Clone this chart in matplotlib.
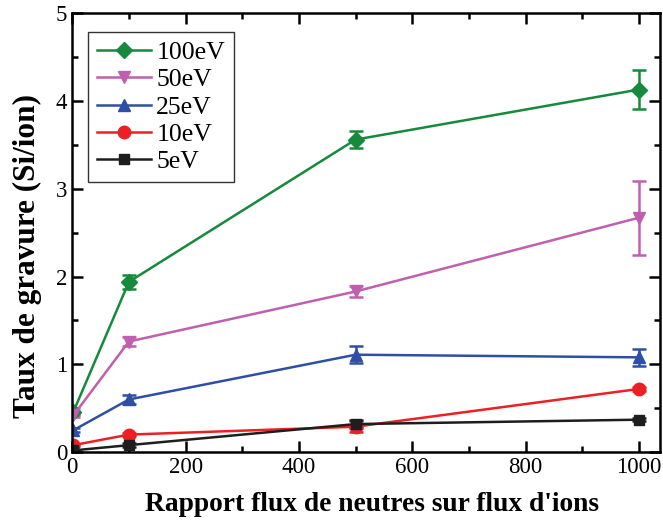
import numpy as np
import matplotlib
matplotlib.use("Agg")
from matplotlib import pyplot as plt
from matplotlib.ticker import MultipleLocator
from matplotlib.lines import Line2D

plt.rcParams["font.family"] = ["Liberation Serif", "DejaVu Serif"]

rapport = [2, 100, 500, 1000]

taux_100 = [0.46, 1.94, 3.56, 4.13]
err_100 = [0.04, 0.08, 0.10, 0.22]
taux_50 = [0.42, 1.26, 1.83, 2.67]
err_50 = [0.02, 0.05, 0.06, 0.42]
taux_25 = [0.25, 0.60, 1.11, 1.08]
err_25 = [0.02, 0.05, 0.10, 0.10]
taux_10 = [0.08, 0.20, 0.29, 0.72]
err_10 = [0.01, 0.02, 0.06, 0.02]
taux_5 = [0.02, 0.08, 0.32, 0.37]
err_5 = [0.01, 0.02, 0.05, 0.02]

series = [
    ("100eV", taux_100, err_100, "#168a3c", "D", 8),
    ("50eV", taux_50, err_50, "#c05fb0", "v", 9),
    ("25eV", taux_25, err_25, "#2f4fa6", "^", 9),
    ("10eV", taux_10, err_10, "#ee1f24", "o", 9),
    ("5eV", taux_5, err_5, "#1e1e1e", "s", 7),
]

fig = plt.figure(figsize=(6.63, 5.27), dpi=100)
ax = fig.add_axes([0.109, 0.142, 0.887, 0.833])

poignees = []
for nom, y, e, c, m, ms in series:
    ax.errorbar(rapport, y, yerr=e, color=c, marker=m, markersize=ms,
                linewidth=1.8, elinewidth=1.8, capsize=5, capthick=1.8)
    poignees.append(Line2D([], [], color=c, marker=m, markersize=ms,
                           linewidth=1.8, label=nom))

ax.set_xlim(0, 1038)
ax.set_ylim(0, 5)
ax.xaxis.set_major_locator(MultipleLocator(200))
ax.xaxis.set_minor_locator(MultipleLocator(100))
ax.yaxis.set_major_locator(MultipleLocator(1))
ax.yaxis.set_minor_locator(MultipleLocator(0.5))
ax.tick_params(which="both", direction="in", top=True, right=True,
               labelsize=16.5, width=1.8)
ax.tick_params(which="major", length=8)
ax.tick_params(which="minor", length=4)
for s in ax.spines.values():
    s.set_linewidth(1.8)

ax.set_xlabel("Rapport flux de neutres sur flux d'ions", fontsize=19.8,
              fontweight="bold")
ax.set_ylabel("Taux de gravure (Si/ion)", fontsize=22.5, fontweight="bold")
ax.xaxis.set_label_coords(0.51, -0.09)
ax.yaxis.set_label_coords(-0.052, 0.446)

leg = ax.legend(handles=poignees, loc="upper left",
                bbox_to_anchor=(0.027, 0.957), fontsize=18.5,
                fancybox=False, edgecolor="black", handlelength=2.1,
                handletextpad=0.2, borderpad=0.35, labelspacing=0.17,
                borderaxespad=0)
leg.get_frame().set_linewidth(1.0)

plt.savefig("out.png", dpi=100)
